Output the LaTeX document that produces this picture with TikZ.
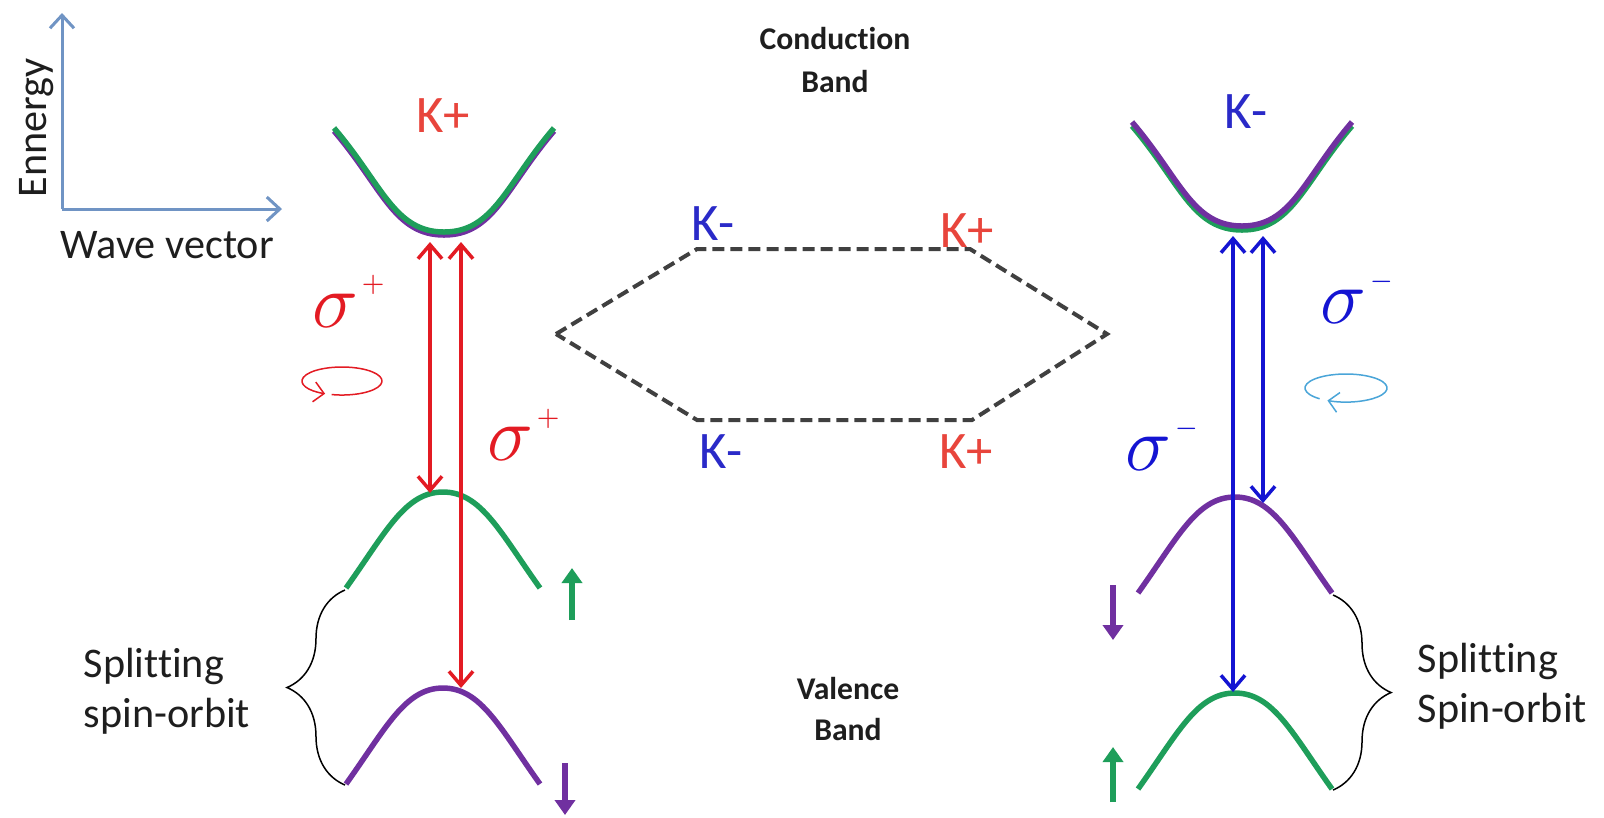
\RequirePackage{fix-cm}
\documentclass[tikz,border=0pt]{standalone}
\usepackage{fontspec}
\setmainfont{Carlito}[Ligatures=NoCommon]
\usetikzlibrary{arrows.meta,decorations.pathreplacing}
\definecolor{Axis}{HTML}{7094C4}
\definecolor{BandGreen}{HTML}{1E9E5A}
\definecolor{BandPurple}{HTML}{7030A0}
\definecolor{PlusRed}{HTML}{E31B23}
\definecolor{LabelRed}{HTML}{E8453C}
\definecolor{MinusBlue}{HTML}{1414D2}
\definecolor{LabelBlue}{HTML}{2A2AC8}
\definecolor{LoopBlue}{HTML}{4AA5D8}
\definecolor{HexGray}{HTML}{404040}
\definecolor{Ink}{HTML}{1E1E1E}
\tikzset{
  axis/.style={draw=Axis, line width=0.03cm, -{Straight Barb[length=0.13cm,width=0.24cm]}},
  band/.style={line width=0.055cm},
  trans/.style={line width=0.035cm,
    {Straight Barb[length=0.14cm,width=0.24cm]}-{Straight Barb[length=0.14cm,width=0.24cm]}},
  spin/.style={line width=0.06cm, -{Triangle[length=0.15cm,width=0.2cm]}},
  loop/.style={line width=0.015cm, -{Straight Barb[length=0.1cm,width=0.2cm]}},
  hexa/.style={draw=HexGray, line width=0.04cm, dash pattern=on 0.12cm off 0.06cm},
  klabel/.style={font=\fontsize{15}{18}\selectfont, inner sep=0pt, anchor=base},
  pol/.style={font=\fontsize{22}{26}\selectfont, inner sep=0pt, anchor=base west},
  bandname/.style={font=\fontsize{9}{12}\selectfont\bfseries, text=Ink, align=center, inner sep=0pt},
  split/.style={font=\fontsize{12}{14.2}\selectfont, text=Ink, align=left, inner sep=0pt, anchor=west},
  splitbrace/.style={decorate, decoration={brace, amplitude=0.58cm}, line width=0.015cm},
  condband/.pic={\draw[band] (-110,-104) .. controls (-62,-48) and (-50,0) .. (0,0)
    .. controls (50,0) and (62,-48) .. (110,-104);},
  valband/.pic={\draw[band] (-97,96) .. controls (-57,40) and (-38,0) .. (0,0)
    .. controls (38,0) and (57,40) .. (97,96);}
}
\newcommand{\pol}[1]{$\sigma$\hspace{0.03cm}\raisebox{0.35cm}{\fontsize{7.5}{8}\selectfont$#1$}}

\begin{document}
\begin{tikzpicture}[x=0.01cm, y=-0.01cm]
  \useasboundingbox (0,0) rectangle (1604,817);
  % axes
  \coordinate (origin) at (62,209);
  \coordinate (etop) at (62,13);
  \coordinate (kright) at (282,209);
  \draw[axis] (origin) -- (etop);
  \draw[axis] (origin) -- (kright);
  \node[rotate=90, anchor=base, font=\fontsize{12}{14}\selectfont, text=Ink, inner sep=0pt] (energy) at (47,128) {Ennergy};
  \node[anchor=base west, font=\fontsize{12}{14}\selectfont, text=Ink, inner sep=0pt] (wave) at (60,258) {Wave vector};

  % bands, K+ valley
  \pic[color=BandPurple] at (444,235) {condband};
  \pic[color=BandGreen] at (444,232) {condband};
  \pic[color=BandGreen] at (443,492) {valband};
  \pic[color=BandPurple] at (443,688) {valband};
  % bands, K- valley
  \pic[color=BandGreen] at (1242,230) {condband};
  \pic[color=BandPurple] at (1242,226) {condband};
  \pic[color=BandPurple] at (1235,497) {valband};
  \pic[color=BandGreen] at (1235,693) {valband};

  \node[klabel, text=LabelRed] (kplus) at (443,132) {K+};
  \node[klabel, text=LabelBlue] (kminus) at (1246,128) {K-};

  % transitions
  \coordinate (lcA) at (430,242);
  \coordinate (lvA) at (430,493);
  \coordinate (lcB) at (461,242);
  \coordinate (lvB) at (461,688);
  \coordinate (rcA) at (1233,236);
  \coordinate (rvA) at (1233,692);
  \coordinate (rcB) at (1263,236);
  \coordinate (rvB) at (1263,503);
  \draw[trans, PlusRed] (lcA) -- (lvA);
  \draw[trans, PlusRed] (lcB) -- (lvB);
  \draw[trans, MinusBlue] (rcA) -- (rvA);
  \draw[trans, MinusBlue] (rcB) -- (rvB);

  \node[pol, text=PlusRed] (spA) at (312,327) {\pol{+}};
  \node[pol, text=PlusRed] (spB) at (487,460) {\pol{+}};
  \node[pol, text=MinusBlue] (smA) at (1320,323) {\pol{-}};
  \node[pol, text=MinusBlue] (smB) at (1125,470) {\pol{-}};

  % circular polarisation
  \coordinate (lloop) at (342,381);
  \coordinate (rloop) at (1346,388);
  \draw[loop, PlusRed] ([shift={(-105:0.40cm and 0.14cm)}]lloop)
    arc[start angle=-105, end angle=245, x radius=0.40cm, y radius=0.14cm];
  \draw[loop, LoopBlue] ([shift={(590:0.41cm and 0.14cm)}]rloop)
    arc[start angle=590, end angle=243, x radius=0.41cm, y radius=0.14cm];

  % spins
  \draw[spin, BandGreen] (572,620) -- (572,568);
  \draw[spin, BandPurple] (565,763) -- (565,815);
  \draw[spin, BandPurple] (1113,585) -- (1113,640);
  \draw[spin, BandGreen] (1113,802) -- (1113,747);

  % Brillouin zone
  \coordinate (hw) at (556,334);
  \coordinate (hnw) at (697,249);
  \coordinate (hne) at (970,249);
  \coordinate (he) at (1107,334);
  \coordinate (hse) at (972,420);
  \coordinate (hsw) at (697,420);
  \draw[hexa] (hw) -- (hnw) -- (hne) -- (he) -- (hse) -- (hsw) -- cycle;
  \node[klabel, text=LabelBlue] (hkA) at (713,240) {K-};
  \node[klabel, text=LabelRed] (hkB) at (967,247) {K+};
  \node[klabel, text=LabelBlue] (hkC) at (721,468) {K-};
  \node[klabel, text=LabelRed] (hkD) at (966,468) {K+};

  \node[bandname] (cband) at (835,60) {Conduction\\Band};
  \node[bandname, font=\fontsize{9}{11.4}\selectfont\bfseries] (vband) at (848,709) {Valence\\Band};

  % spin-orbit splitting
  \draw[splitbrace] (345,785) -- (345,590);
  \draw[splitbrace] (1333,595) -- (1333,790);
  \node[split] (lsplit) at (83,691) {Splitting\\spin-orbit};
  \node[split] (rsplit) at (1417,686) {Splitting\\Spin-orbit};
\end{tikzpicture}
\end{document}
